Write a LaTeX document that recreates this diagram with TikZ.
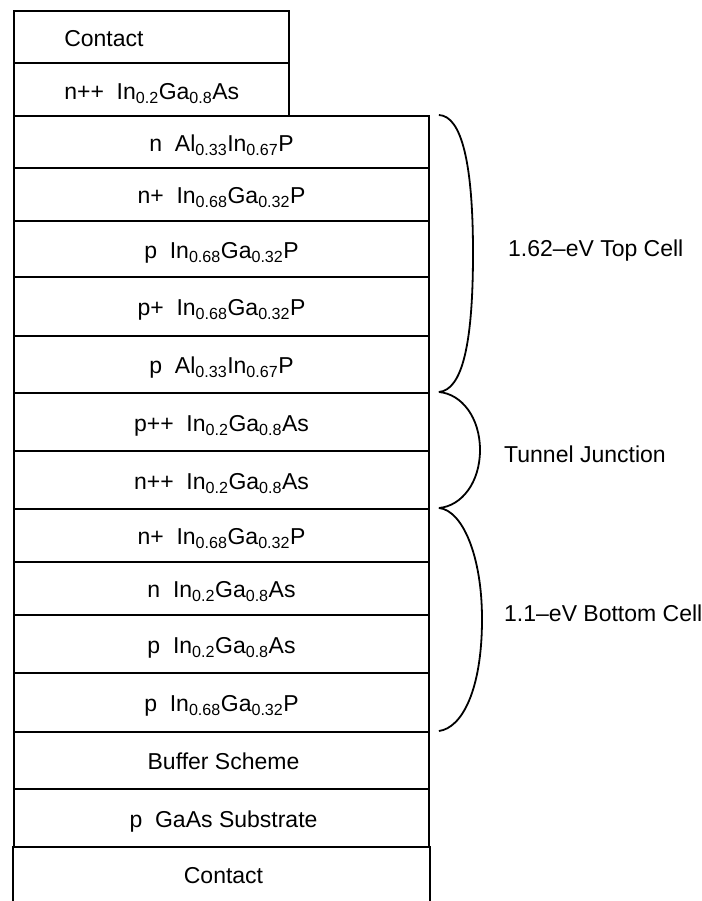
\documentclass[tikz,border=0pt]{standalone}
\usepackage{fontspec}
\setmainfont{Liberation Sans}
\begin{document}
\begin{tikzpicture}[x=1pt,y=-1pt,
  box/.style={draw, line width=1.8pt, minimum width=415pt, inner sep=0pt, anchor=north},
  topbox/.style={draw, line width=1.8pt, minimum width=275pt, inner sep=0pt, anchor=north},
  lbl/.style={anchor=base, inner sep=0pt, font=\fontsize{23}{28}\selectfont},
  side/.style={anchor=base west, inner sep=0pt, font=\fontsize{23}{28}\selectfont},
  brace/.style={draw, line width=1.8pt}]
\useasboundingbox (0,0) rectangle (701,901);
\newcommand{\sbs}[1]{\textsubscript{#1}}
% top boxes
\node[topbox, minimum height=52pt] (c1) at (151.5,10) {};
\node[topbox, minimum height=53pt] (c2) at (151.5,62) {};
% main stack
\node[box, minimum height=52pt] (r1) at (221.5,115) {};
\node[box, minimum height=53pt] (r2) at (221.5,167) {};
\node[box, minimum height=56pt] (r3) at (221.5,220) {};
\node[box, minimum height=59pt] (r4) at (221.5,276) {};
\node[box, minimum height=57pt] (r5) at (221.5,335) {};
\node[box, minimum height=58pt] (r6) at (221.5,392) {};
\node[box, minimum height=58pt] (r7) at (221.5,450) {};
\node[box, minimum height=53pt] (r8) at (221.5,508) {};
\node[box, minimum height=53pt] (r9) at (221.5,561) {};
\node[box, minimum height=58pt] (r10) at (221.5,614) {};
\node[box, minimum height=59pt] (r11) at (221.5,672) {};
\node[box, minimum height=57pt] (r12) at (221.5,731) {};
\node[box, minimum height=58pt] (r13) at (221.5,788) {};
\node[box, draw=none, minimum height=60pt] (r14) at (221.5,846) {};
\draw[line width=1.8pt] (r14.north west) -- (r14.south west);
\draw[line width=1.8pt] (r14.north east) -- (r14.south east);
% texts
\node[side] (tc1) at ([xshift=51pt,yshift=-10pt]c1.west) {Contact};
\node[side] (tc2) at ([xshift=51pt,yshift=-10pt]c2.west) {n++\ \ In\sbs{0.2}Ga\sbs{0.8}As};
\node[lbl] (t1) at ([yshift=-9.5pt]r1.center) {n\ \ Al\sbs{0.33}In\sbs{0.67}P};
\node[lbl] (t2) at ([yshift=-9.5pt]r2.center) {n+\ \ In\sbs{0.68}Ga\sbs{0.32}P};
\node[lbl] (t3) at ([yshift=-9.5pt]r3.center) {p\ \ In\sbs{0.68}Ga\sbs{0.32}P};
\node[lbl] (t4) at ([yshift=-9.5pt]r4.center) {p+\ \ In\sbs{0.68}Ga\sbs{0.32}P};
\node[lbl] (t5) at ([yshift=-9.5pt]r5.center) {p\ \ Al\sbs{0.33}In\sbs{0.67}P};
\node[lbl] (t6) at ([yshift=-9.5pt]r6.center) {p++\ \ In\sbs{0.2}Ga\sbs{0.8}As};
\node[lbl] (t7) at ([yshift=-9.5pt]r7.center) {n++\ \ In\sbs{0.2}Ga\sbs{0.8}As};
\node[lbl] (t8) at ([yshift=-9.5pt]r8.center) {n+\ \ In\sbs{0.68}Ga\sbs{0.32}P};
\node[lbl] (t9) at ([yshift=-9.5pt]r9.center) {n\ \ In\sbs{0.2}Ga\sbs{0.8}As};
\node[lbl] (t10) at ([yshift=-9.5pt]r10.center) {p\ \ In\sbs{0.2}Ga\sbs{0.8}As};
\node[lbl] (t11) at ([yshift=-9.5pt]r11.center) {p\ \ In\sbs{0.68}Ga\sbs{0.32}P};
\node[lbl] (t12) at ([xshift=2pt,yshift=-9.5pt]r12.center) {Buffer Scheme};
\node[lbl] (t13) at ([xshift=2pt,yshift=-9.5pt]r13.center) {p\ \ GaAs Substrate};
\node[lbl] (t14) at (223.5,883) {Contact};
% braces
\coordinate (b0) at ([xshift=9pt]r1.north east);
\coordinate (b1) at ([xshift=9pt]r6.north east);
\coordinate (b2) at ([xshift=9pt]r8.north east);
\coordinate (b3) at ([xshift=9pt]r12.north east);
\draw[brace] (b0) .. controls (462,116) and (473,165) .. (473,253)
  .. controls (473,345) and (462,390) .. (b1);
\draw[brace] (b1) .. controls (462,394) and (480,418) .. (480,450)
  .. controls (480,482) and (462,506) .. (b2);
\draw[brace] (b2) .. controls (462,510) and (482,555) .. (482,619)
  .. controls (482,690) and (462,728) .. (b3);
% brace labels
\node[side] (L1) at (508,256) {1.62\textendash eV Top Cell};
\node[side] (L2) at (504,462) {Tunnel Junction};
\node[side] (L3) at (504,621) {1.1\textendash eV Bottom Cell};
\end{tikzpicture}
\end{document}
